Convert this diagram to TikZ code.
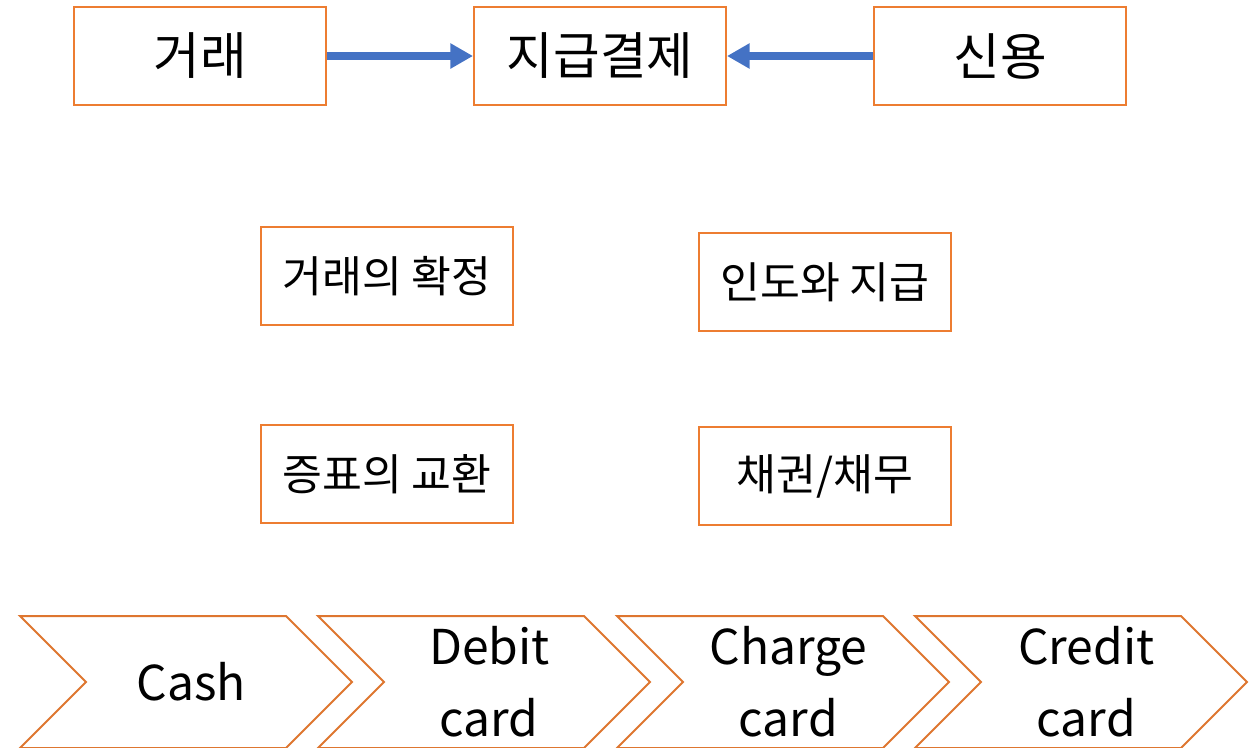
\documentclass[tikz,border=0pt]{standalone}
\usepackage{fontspec}
\setmainfont{Noto Sans CJK KR}
\usepackage{tikz}
\usetikzlibrary{arrows.meta, positioning, shapes.symbols}
\definecolor{boxorange}{HTML}{ED7D31}
\definecolor{chevorange}{HTML}{DE7630}
\definecolor{arrowblue}{HTML}{4472C4}
\tikzstyle{topbox}=[rectangle, draw=boxorange, line width=1.5pt, minimum width=189pt, minimum height=73.5pt, font=\fontsize{38}{45}\selectfont]
\tikzstyle{midbox}=[rectangle, draw=boxorange, line width=1.5pt, minimum width=189pt, minimum height=73.5pt, font=\fontsize{32.5}{39}\selectfont]
\tikzstyle{chevron}=[signal, signal to=east, signal from=west, signal pointer angle=90, draw=chevorange, line width=1.5pt, minimum width=249pt, minimum height=99pt, align=center, font=\fontsize{36}{54}\selectfont]
\tikzstyle{feed}=[draw=arrowblue, line width=5.5pt, -{Triangle[length=17pt,width=18pt]}]

\begin{document}
\begin{tikzpicture}[x=0.75pt, y=-0.75pt, node distance=109.5pt]
      \useasboundingbox (0,0) rectangle (1256,747);
      \node[topbox] (trade) at (200,56) {거래};
      \node[topbox] (pay) [right=of trade] {지급결제};
      \node[topbox] (credit) [right=of pay] {신용};
      \draw[feed] (trade) -- (pay);
      \draw[feed] (credit) -- (pay);

      \node[midbox] (confirm) at (387,276) {거래의 확정};
      \node[midbox] (deliver) at (825,282) {인도와 지급};
      \node[midbox] (voucher) at (387,474) {증표의 교환};
      \node[midbox] (claim) at (825,476) {채권/채무};

      \node[chevron] (cash) at (186,682) {\hspace*{8pt}Cash};
      \node[chevron] (debit) at (484,682) {\hspace*{8pt}Debit\\\hspace*{8pt}card};
      \node[chevron] (charge) at (783,682) {\hspace*{8pt}Charge\\\hspace*{8pt}card};
      \node[chevron] (ccard) at (1081,682) {\hspace*{8pt}Credit\\\hspace*{8pt}card};
    \end{tikzpicture}
\end{document}
